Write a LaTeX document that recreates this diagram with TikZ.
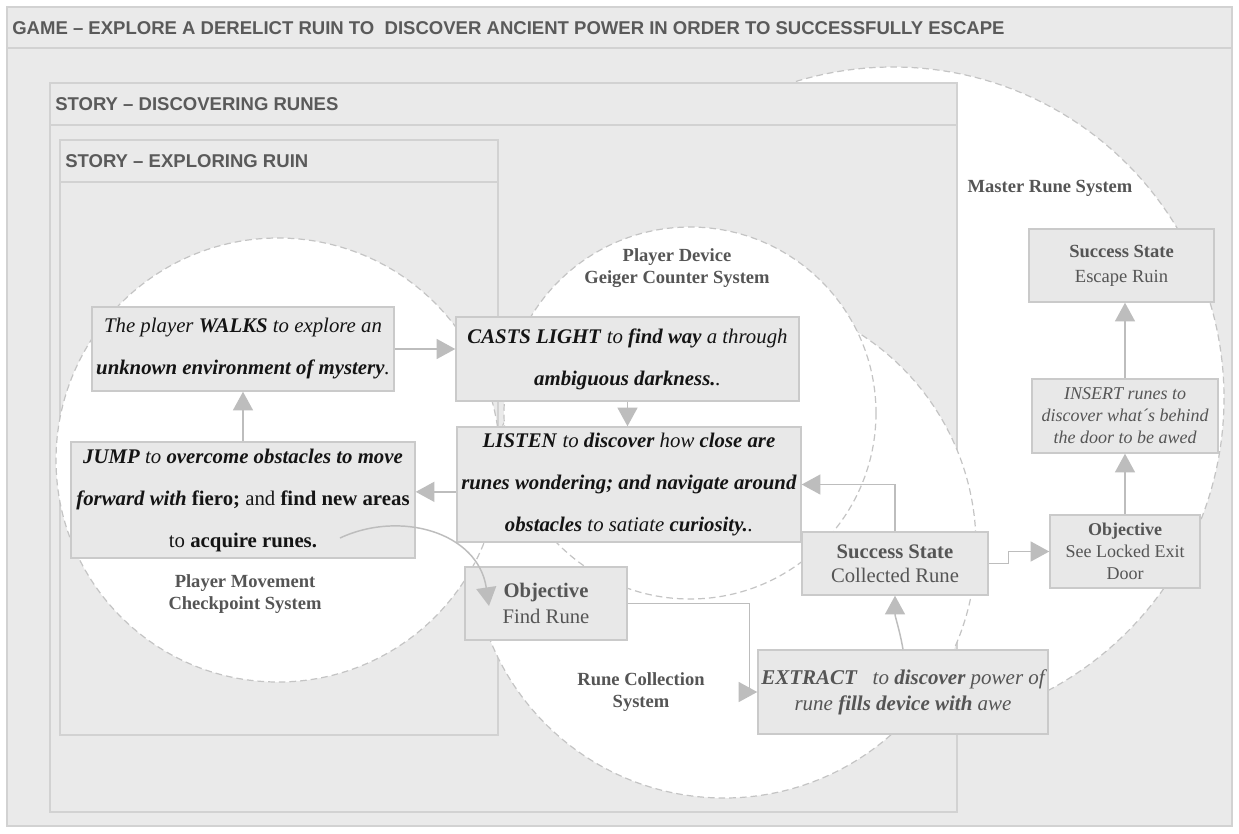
\documentclass[tikz,border=0pt]{standalone}
\usepackage{fontspec}
\setmainfont{Liberation Serif}
\setsansfont{Liberation Sans}
\usetikzlibrary{arrows.meta,calc}
\definecolor{framefill}{HTML}{EAEAEA}
\definecolor{frameline}{HTML}{D2D2D2}
\definecolor{boxfill}{HTML}{E8E8E8}
\definecolor{boxline}{HTML}{CACACA}
\definecolor{dashcol}{HTML}{C4C4C4}
\definecolor{conncol}{HTML}{BDBDBD}
\definecolor{headtext}{HTML}{5A5A5A}
\definecolor{labtext}{HTML}{555555}
\definecolor{bodytext}{HTML}{141414}
\begin{document}
\begin{tikzpicture}[x=0.75pt,y=-0.75pt,
  frame/.style={fill=framefill,draw=frameline,line width=1.2pt},
  sep/.style={draw=frameline,line width=1.2pt},
  hdr/.style={anchor=west,font=\sffamily\bfseries\fontsize{13.9}{16}\selectfont,text=headtext,inner sep=0pt},
  zoneline/.style={draw=dashcol,dash pattern=on 5pt off 3pt,line width=0.9pt},
  box/.style={draw=boxline,fill=boxfill,line width=1.1pt,align=center,inner sep=0pt},
  bigbox/.style={box,text=bodytext,font=\fontsize{15.6}{31.5}\selectfont},
  lab/.style={align=center,text=labtext,inner sep=0pt,font=\bfseries\fontsize{13.9}{16.5}\selectfont},
  conn/.style={draw=conncol,line width=1.1pt,-{Triangle[length=14pt,width=15pt]}}
]
\useasboundingbox (0,0) rectangle (1239,833);
% outer game frame
\draw[frame] (7,7) rectangle (1232,826);
\draw[sep] (7,48) -- (1232,48);
\node[hdr] (gtitle) at (12,28) {GAME – EXPLORE A DERELICT RUIN TO\ \ DISCOVER ANCIENT POWER IN ORDER TO SUCCESSFULLY ESCAPE};
% master rune zone
\fill[white] (893,398) circle[radius=331];
\draw[zoneline] (893,398) circle[radius=331];
% story frames
\draw[frame] (50,83) rectangle (957,812);
\draw[sep] (50,125) -- (957,125);
\node[hdr] (dtitle) at (55,104) {STORY – DISCOVERING RUNES};
\draw[frame] (60,140) rectangle (498,735);
\draw[sep] (60,182) -- (498,182);
\node[hdr] (etitle) at (65,161) {STORY – EXPLORING RUIN};
% zones
\fill[white] (724,546) circle[radius=252];
\draw[zoneline] (724,546) circle[radius=252];
\fill[white] (690,413) circle[radius=186];
\draw[zoneline] (690,413) circle[radius=186];
\fill[white] (278,460) circle[radius=222];
\draw[zoneline] (278,460) circle[radius=222];
% zone labels
\node[lab] (lmaster) at (1050,188) {Master Rune System};
\node[lab] (ldevice) at (677,268) {Player Device\\Geiger Counter System};
\node[lab] (lmove) at (245,594) {Player Movement\\Checkpoint System};
\node[lab] (lrune) at (641,692) {Rune Collection\\System};
% boxes
\node[bigbox,minimum width=226.5pt,minimum height=63pt] (walks) at (243,349)
  {\textit{The player \textbf{WALKS} to explore an}\\\textbf{\textit{unknown environment of mystery}}\textit{.}};
\node[bigbox,minimum width=258pt,minimum height=87pt] (jump) at (243,500)
  {\textbf{\textit{JUMP}} \textit{to} \textbf{\textit{overcome obstacles to move}}\\\textbf{\textit{forward with}} \textbf{fiero;} and \textbf{find new areas}\\to \textbf{acquire runes.}};
\node[bigbox,minimum width=257.25pt,minimum height=63pt] (casts) at (627.5,359)
  {\textbf{\textit{CASTS LIGHT}} \textit{to} \textbf{\textit{find way}} \textit{a through}\\\textbf{\textit{ambiguous darkness.}}\textit{.}};
\node[bigbox,minimum width=258pt,minimum height=86.25pt] (listen) at (629,484.5)
  {\textbf{\textit{LISTEN}} \textit{to} \textbf{\textit{discover}} \textit{how} \textbf{\textit{close are}}\\\textbf{\textit{runes wondering; and navigate around}}\\\textbf{\textit{obstacles}} \textit{to satiate} \textbf{\textit{curiosity.}}\textit{.}};
\node[box,text=labtext,font=\fontsize{15.5}{19.5}\selectfont,minimum width=121.5pt,minimum height=54.75pt] (objfind) at (546,603.5)
  {\textbf{Objective}\\Find Rune};
\node[box,text=labtext,font=\fontsize{15.5}{18}\selectfont,minimum width=139.5pt,minimum height=47.25pt] (succcol) at (895,563.5)
  {\textbf{Success State}\\Collected Rune};
\node[box,text=labtext,font=\itshape\fontsize{15.75}{19.5}\selectfont,minimum width=217.5pt,minimum height=63pt] (extract) at (903,692)
  {\textbf{EXTRACT}~~ to \textbf{discover} power of\\rune \textbf{fills device with} awe};
\node[box,text=labtext,font=\fontsize{13.5}{16.5}\selectfont,minimum width=112.5pt,minimum height=54.75pt] (objdoor) at (1125,551.5)
  {\textbf{Objective}\\See Locked Exit\\Door};
\node[box,text=labtext,font=\itshape\fontsize{13.5}{16.5}\selectfont,minimum width=139.5pt,minimum height=55.5pt] (insert) at (1125,416)
  {INSERT runes to\\discover what´s behind\\the door to be awed};
\node[box,text=labtext,font=\fontsize{13.9}{18.75}\selectfont,minimum width=138.75pt,minimum height=54.75pt] (escape) at (1121.5,265.5)
  {\textbf{Success State}\\Escape Ruin};
% connectors
\draw[conn] (walks.east) -- (walks.east -| casts.west);
\draw[conn] (jump.north) -- (walks.south);
\draw[conn] (casts.south) -- (casts.south |- listen.north);
\draw[conn] ([yshift=-5.5pt]listen.west) -- ([yshift=-5.5pt]listen.west -| jump.east);
\coordinate (jc) at (340,538);
\coordinate (jt) at (489,606);
\draw[conn] (jc) .. controls (400,510) and (478,532) .. (jt);
\draw[conn] (objfind.east) -- ++(122,0) |- (extract.west);
\draw[conn] (extract.north) to[out=100,in=-90] (succcol.south);
\draw[conn] (succcol.north) |- (listen.east);
\draw[conn] (succcol.east) -- ++(20,0) |- (objdoor.west);
\draw[conn] (objdoor.north) -- (insert.south);
\draw[conn] (insert.north) -- (insert.north |- escape.south);
\end{tikzpicture}
\end{document}
